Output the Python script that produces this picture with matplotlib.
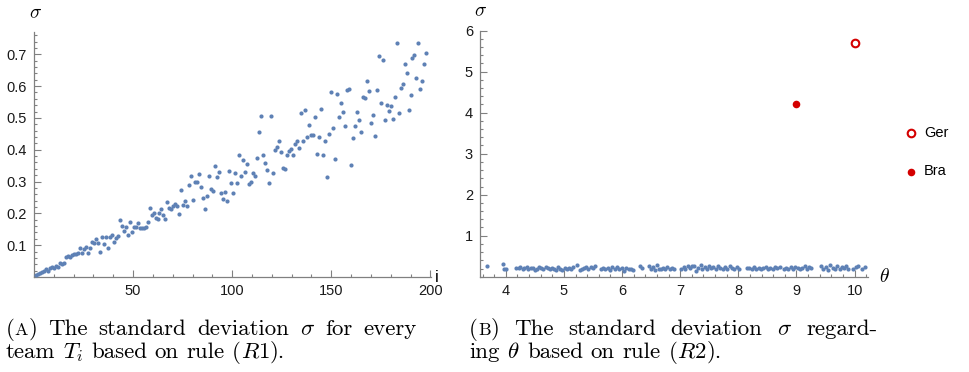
import numpy as np
import matplotlib
matplotlib.use('Agg')
import matplotlib.pyplot as plt
from matplotlib.ticker import MultipleLocator

plt.rcParams['font.family'] = ['Liberation Sans', 'DejaVu Sans']
plt.rcParams['mathtext.fontset'] = 'cm'

# (A) sigma per team, rule R1 (in team order)
sigma_r1 = [
    0.006, 0.009, 0.014, 0.017, 0.020, 0.024, 0.020, 0.027, 0.032, 0.029,
    0.036, 0.032, 0.043, 0.041, 0.043, 0.064, 0.066, 0.064, 0.068, 0.072,
    0.072, 0.074, 0.090, 0.074, 0.087, 0.093, 0.077, 0.090, 0.111, 0.108,
    0.119, 0.108, 0.079, 0.127, 0.104, 0.127, 0.090, 0.127, 0.132, 0.111,
    0.122, 0.129, 0.179, 0.160, 0.146, 0.156, 0.132, 0.172, 0.143, 0.158,
    0.158, 0.171, 0.153, 0.153, 0.153, 0.156, 0.174, 0.218, 0.195, 0.200,
    0.184, 0.181, 0.200, 0.214, 0.195, 0.181, 0.236, 0.216, 0.215, 0.224,
    0.229, 0.223, 0.198, 0.274, 0.226, 0.240, 0.223, 0.289, 0.318, 0.242,
    0.298, 0.300, 0.324, 0.284, 0.248, 0.215, 0.256, 0.316, 0.276, 0.270,
    0.349, 0.313, 0.329,
    0.265, 0.244, 0.268, 0.240, 0.334, 0.295, 0.263, 0.326, 0.295, 0.383,
    0.316, 0.367, 0.331, 0.356, 0.292, 0.300, 0.328, 0.317, 0.375, 0.455,
    0.507, 0.384, 0.357, 0.335, 0.297, 0.505, 0.327, 0.400, 0.408, 0.427,
    0.392, 0.344, 0.340, 0.385, 0.397, 0.403, 0.382, 0.419, 0.429, 0.404,
    0.517, 0.427, 0.525, 0.439, 0.479, 0.447, 0.446, 0.504, 0.387, 0.439,
    0.528, 0.383, 0.429, 0.313, 0.450, 0.580, 0.468, 0.372, 0.574, 0.503,
    0.547, 0.519, 0.475, 0.587, 0.590, 0.352, 0.436, 0.474, 0.520, 0.493,
    0.455, 0.565, 0.562, 0.616, 0.586, 0.484, 0.508, 0.442, 0.589, 0.695,
    0.548, 0.683, 0.493, 0.542, 0.523, 0.536, 0.497, 0.565, 0.734, 0.516,
    0.594, 0.607, 0.670, 0.640, 0.524, 0.572, 0.687, 0.697, 0.627, 0.737,
    0.590, 0.617, 0.668, 0.704,
]
team_idx = np.linspace(1, 198, len(sigma_r1))

# (B) sigma against theta, rule R2
theta_r2 = [
    3.68, 3.95, 3.97, 4.00,
    4.18, 4.22, 4.25, 4.29, 4.32, 4.36, 4.39, 4.43, 4.47, 4.50, 4.54, 4.57, 4.61, 4.64,
    4.69, 4.72, 4.76, 4.79, 4.83, 4.86, 4.90, 4.94, 4.97, 5.01, 5.05, 5.08, 5.12, 5.15,
    5.23, 5.27, 5.31, 5.34, 5.38, 5.42, 5.46, 5.50, 5.53,
    5.63, 5.67, 5.71, 5.75, 5.79, 5.83, 5.87, 5.91, 5.95, 5.99, 6.03, 6.07,
    6.12, 6.16, 6.19,
    6.30, 6.34,
    6.46, 6.49, 6.53, 6.56, 6.60, 6.63, 6.67, 6.70, 6.74, 6.78, 6.82, 6.86, 6.90,
    7.02, 7.06, 7.09, 7.13, 7.16, 7.20, 7.24, 7.27, 7.31, 7.35, 7.38, 7.42, 7.46, 7.49,
    7.53, 7.57, 7.61, 7.65, 7.69, 7.73, 7.77, 7.81, 7.85, 7.89, 7.93, 7.97, 8.01,
    8.15, 8.19, 8.23, 8.27, 8.31, 8.35, 8.39, 8.43, 8.47, 8.51, 8.55, 8.59, 8.63, 8.67, 8.71,
    8.78, 8.82, 8.86, 8.90, 8.94, 8.98, 9.02, 9.06, 9.10, 9.14, 9.18, 9.22, 9.25,
    9.42, 9.46, 9.50, 9.54, 9.58, 9.62, 9.66, 9.70, 9.74, 9.78, 9.82, 9.86, 9.89,
    9.98, 10.03, 10.06, 10.13, 10.17,
]
sigma_r2 = [
    0.27, 0.30, 0.20, 0.19,
    0.22, 0.21, 0.23, 0.20, 0.22, 0.24, 0.19, 0.22, 0.21, 0.17, 0.20, 0.23, 0.22, 0.19,
    0.24, 0.21, 0.18, 0.22, 0.20, 0.16, 0.23, 0.19, 0.17, 0.21, 0.18, 0.22, 0.20, 0.23,
    0.28, 0.16, 0.19, 0.22, 0.24, 0.20, 0.23, 0.21, 0.25,
    0.19, 0.22, 0.18, 0.21, 0.17, 0.23, 0.20, 0.24, 0.18, 0.21, 0.15, 0.22,
    0.20, 0.18, 0.17,
    0.26, 0.21,
    0.27, 0.19, 0.24, 0.17, 0.28, 0.20, 0.18, 0.22, 0.19, 0.24, 0.20, 0.21, 0.18,
    0.20, 0.23, 0.19, 0.26, 0.21, 0.25, 0.27, 0.15, 0.22, 0.28, 0.20, 0.24, 0.18, 0.26,
    0.21, 0.23, 0.19, 0.25, 0.22, 0.20, 0.24, 0.18, 0.26, 0.21, 0.19, 0.23, 0.20,
    0.22, 0.21, 0.19, 0.23, 0.20, 0.22, 0.18, 0.21, 0.24, 0.19, 0.22, 0.20, 0.23, 0.21, 0.24,
    0.18, 0.21, 0.19, 0.23, 0.20, 0.24, 0.22, 0.19, 0.21, 0.25, 0.20, 0.23, 0.22,
    0.27, 0.20, 0.24, 0.17, 0.28, 0.22, 0.19, 0.25, 0.18, 0.23, 0.21, 0.26, 0.20,
    0.18, 0.24, 0.27, 0.20, 0.23,
]
highlight_names = ['Ger', 'Bra']
highlight_theta = [10.0, 9.0]
highlight_sigma = [5.71, 4.21]

BLUE = '#5e81b5'
RED = '#d40000'
AXC = '#808080'
W, H = 970, 372
CAP_SIZE = 16.5


def style_axes(ax):
    for s in ['top', 'right']:
        ax.spines[s].set_visible(False)
    for s in ['left', 'bottom']:
        ax.spines[s].set_color(AXC)
        ax.spines[s].set_linewidth(0.9)
    ax.tick_params(which='both', direction='in', color=AXC, width=0.8,
                   labelsize=10.5, labelcolor='#1a1a1a')
    ax.tick_params(which='major', length=5, pad=5)
    ax.tick_params(which='minor', length=2.5)


def caption_line(fig, x0, base, words, width=None):
    # words: list of words, each a list of (text, size factor); width set -> justified
    r = fig.canvas.get_renderer()
    items = []
    for word in words:
        arts = []
        for s, f in word:
            t = fig.text(0, 1 - base / H, s, fontsize=CAP_SIZE * f,
                         fontfamily='cmr10', va='baseline', ha='left')
            arts.append((t, t.get_window_extent(r).width))
        items.append(arts)
    total = sum(w for arts in items for _, w in arts)
    if width is None:
        gap = 0.333 * CAP_SIZE * 100 / 72
    else:
        gap = (width - total) / (len(items) - 1)
    x = x0
    for arts in items:
        for t, w in arts:
            t.set_x(x / W)
            x += w
        x += gap


fig = plt.figure(figsize=(9.7, 3.72), dpi=100)

# left panel
ax1 = fig.add_axes([34 / W, 95 / H, 397 / W, 245 / H])
ax1.scatter(team_idx, sigma_r1, s=9, color=BLUE, linewidths=0, clip_on=False, zorder=3)
ax1.set_xlim(0, 200.3)
ax1.set_ylim(0, 0.77)
ax1.set_xticks([50, 100, 150, 200])
ax1.set_yticks([0.1, 0.2, 0.3, 0.4, 0.5, 0.6, 0.7])
ax1.xaxis.set_minor_locator(MultipleLocator(10))
ax1.yaxis.set_minor_locator(MultipleLocator(0.02))
style_axes(ax1)

# right panel
ax2 = fig.add_axes([480 / W, 95.3 / H, 388 / W, 246 / H])
ax2.scatter(theta_r2, sigma_r2, s=9, color=BLUE, linewidths=0, clip_on=False, zorder=3)
ax2.scatter(highlight_theta[0], highlight_sigma[0], s=30, facecolors='white',
            edgecolors=RED, linewidths=1.5, zorder=4, label=highlight_names[0])
ax2.scatter(highlight_theta[1], highlight_sigma[1], s=30, color=RED,
            linewidths=0, zorder=4, label=highlight_names[1])
ax2.set_xlim(3.556, 10.23)
ax2.set_ylim(0, 6)
ax2.set_xticks(range(4, 11))
ax2.set_yticks(range(1, 7))
ax2.xaxis.set_minor_locator(MultipleLocator(0.2))
ax2.yaxis.set_minor_locator(MultipleLocator(0.2))
style_axes(ax2)

fig.legend(loc='center left', bbox_to_anchor=(902 / W, 1 - 152 / H),
           frameon=False, fontsize=10.5, handletextpad=0.3, handlelength=1.2,
           labelspacing=1.7, scatterpoints=1, borderaxespad=0, borderpad=0)

# axis labels
fig.text(36 / W, 1 - 14 / H, r'$\sigma$', ha='center', va='center', fontsize=14)
fig.text(437 / W, 1 - 277 / H, 'i', ha='center', va='center', fontsize=12)
fig.text(481 / W, 1 - 12 / H, r'$\sigma$', ha='center', va='center', fontsize=14)
fig.text(884 / W, 1 - 277 / H, r'$\theta$', ha='center', va='center', fontsize=14)

# captions (small-caps letter drawn as a smaller capital)
caption_line(fig, 6, 335, [[('(', 1), ('A', 0.78), (')', 1)], [('The', 1)], [('standard', 1)],
                           [('deviation', 1)], [(r'$\sigma$', 1)], [('for', 1)], [('every', 1)]],
             width=411)
caption_line(fig, 6, 358, [[('team', 1)], [(r'$T_i$', 1)], [('based', 1)], [('on', 1)],
                           [('rule', 1)], [('(', 1), (r'$R1$', 1), (').', 1)]])
caption_line(fig, 469, 335, [[('(', 1), ('B', 0.78), (')', 1)], [('The', 1)], [('standard', 1)],
                             [('deviation', 1)], [(r'$\sigma$', 1)], [('regard-', 1)]],
             width=409)
caption_line(fig, 469, 358, [[('ing', 1)], [(r'$\theta$', 1)], [('based', 1)], [('on', 1)],
                             [('rule', 1)], [('(', 1), (r'$R2$', 1), (').', 1)]])

fig.savefig('out.png', dpi=100)
